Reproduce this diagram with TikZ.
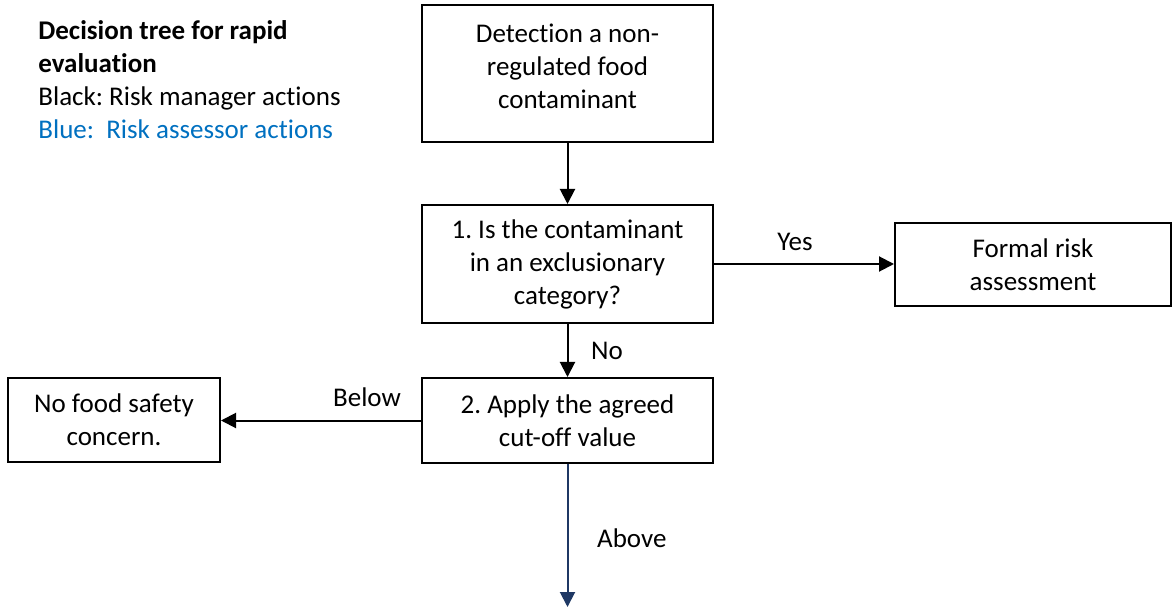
\documentclass[tikz,border=0pt]{standalone}
\usepackage{fontspec}
\setmainfont{Carlito}[Ligatures=NoCommon]
\definecolor{mLegendBlue}{HTML}{0070C0}
\definecolor{mNavy}{HTML}{1F3864}
\usepackage{tikz}
\usetikzlibrary{positioning,arrows.meta,calc}
\frenchspacing

\begin{document}
\begin{tikzpicture}[x=0.5pt, y=-0.5pt,
  font=\fontsize{13.5}{16.5}\selectfont,
  box/.style={draw, line width=1pt, align=center, inner sep=2pt},
  flow/.style={-{Triangle[width=7.5pt,length=7.5pt]}, line width=1pt}]
\useasboundingbox (0,0) rectangle (1173,609);
% legend
\node[anchor=north west, align=left, inner sep=0pt] (legend) at (38,20)
  {\textbf{Decision tree for rapid}\\ \textbf{evaluation}\\ Black: Risk manager actions\\ \textcolor{mLegendBlue}{Blue:\ \ Risk assessor actions}};
% boxes
\node[box, minimum width=145.5pt, minimum height=68.5pt] (detect) at (567.5,73.5) {Detection a non-\\ regulated food\\ contaminant\\[-9.5pt]\mbox{}};
\node[box, minimum width=145.5pt, minimum height=59pt] (excl) at (567.5,264) {1. Is the contaminant\\ in an exclusionary\\ category?};
\node[box, minimum width=138pt, minimum height=41.5pt] (formal) at (1033,264.5) {Formal risk\\ assessment};
\node[box, minimum width=145.5pt, minimum height=42.5pt] (cutoff) at (567.5,420.5) {2. Apply the agreed\\ cut-off value};
\node[box, minimum width=106pt, minimum height=42pt] (nosafety) at (114,420) {No food safety\\ concern.};
\coordinate (aboveEnd) at (567.5,607);
% connectors
\draw[flow] (detect) -- (excl);
\draw[flow] (excl.east) -- (formal.west |- excl.east) node[pos=0.45, above=3pt] (yes) {Yes};
\draw[flow] (excl) -- (cutoff) node[midway, right=8pt] (no) {No};
\draw[flow] (cutoff.west) -- (nosafety.east |- cutoff.west) node[pos=0.27, above=3pt] (below) {Below};
\draw[flow, mNavy] (cutoff) -- (aboveEnd) node[pos=0.52, right=11pt, black] (above) {Above};
\end{tikzpicture}
\end{document}
